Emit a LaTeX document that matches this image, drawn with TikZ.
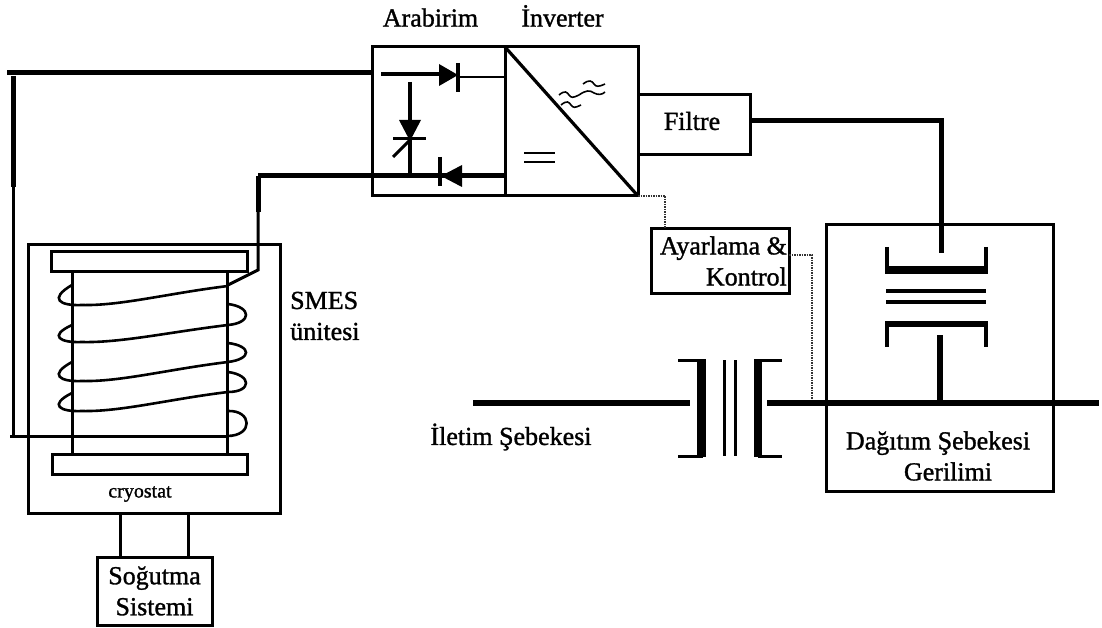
\documentclass[tikz,border=0pt]{standalone}
\usepackage{fontspec}
\setmainfont{Liberation Serif}[RawFeature={embolden=1.2}]
\usepackage{tikz}
\usetikzlibrary{positioning}

\begin{document}
\begin{tikzpicture}[
    x=1pt, y=-1pt,
    blockbox/.style={draw, line width=3pt, rectangle, inner sep=0pt, outer sep=0pt, align=center, font=\fontsize{26}{31}\selectfont},
    label/.style={inner sep=0pt, font=\fontsize{26}{31}\selectfont},
    wire/.style={line width=5pt},
    thin wire/.style={line width=3pt},
    bus/.style={line width=6.5pt},
    signal/.style={line width=1.5pt, densely dotted, black!80},
    turn/.style={line width=2.6pt}
]
    \useasboundingbox (0,0) rectangle (1102,628);

    \node[blockbox, minimum width=133pt, minimum height=149pt] (arabirim) at (438.5,121.5) {};
    \node[blockbox, minimum width=133pt, minimum height=149pt, right=0pt of arabirim] (inverter) {};
    \node[blockbox, minimum width=112pt, minimum height=60pt] (filtre) at (694,125) {};
    \node[label] (filtretext) at (692,121) {Filtre};
    \node[blockbox, minimum width=138pt, minimum height=64pt] (kontrol) at (720,261) {};
    \node[label, align=right, anchor=east] (kontroltext) at (787,261) {Ayarlama \&\\Kontrol};
    \node[blockbox, minimum width=227pt, minimum height=266pt] (dagitim) at (939.5,358) {};
    \node[blockbox, minimum width=252pt, minimum height=268pt] (cryostat) at (154,379) {};
    \node[blockbox, minimum width=196pt, minimum height=19pt] (ustplaka) at (149,261.5) {};
    \node[blockbox, minimum width=195pt, minimum height=20pt] (altplaka) at (149.5,464) {};
    \node[blockbox, minimum width=115pt, minimum height=68pt] (sogutma) at (154.5,591) {Soğutma\\Sistemi};

    \node[label, above=20pt of arabirim, xshift=-8pt] (arabirimtext) {Arabirim};
    \node[label, above=20pt of inverter, xshift=-9pt] (invertertext) {İnverter};
    \node[label, align=left, anchor=west] (smes) at (290,316) {SMES\\ünitesi};
    \node[label] (iletim) at (511,437) {İletim Şebekesi};
    \node[label, align=center] (dagitimtext) at (938,456) {Dağıtım Şebekesi\\\hspace*{20pt}Gerilimi};
    \node[inner sep=0pt, font=\fontsize{20}{24}\selectfont] (cryotext) at (140,494) {cryostat};

    % ana hatlar
    \coordinate (solust) at (7,73);
    \coordinate (solkose) at (13,76);
    \coordinate (solalt) at (10,436);
    \coordinate (bobinalt) at (227,436);
    \coordinate (dirsek) at (258,176);
    \coordinate (bobinust) at (228,285);
    \coordinate (filtrekose) at (941,121);
    \coordinate (trafoust) at (941,253);

    \draw[wire] (solust) -- (solust -| arabirim.west);
    \draw[wire] (solkose) -- (13,187);
    \draw[thin wire] (13,187) -- (13,436);
    \draw[thin wire] (solalt) -- (bobinalt);
    \draw[wire] (dirsek) -- (258,212);
    \draw[thin wire] (258,212) -- (258,270) -- (bobinust);
    \draw[wire] (dirsek) -- (dirsek -| arabirim.east);
    \draw[wire] (filtre.east |- filtrekose) -- (filtrekose) -- (trafoust);

    % bobin
    \draw[thin wire] (72,271) -- (72,454);
    \draw[thin wire] (227,271) -- (227,454);
    \foreach \ya/\yb/\yc in {286/305/285, 325/342/325, 362/381/362, 392/411/393} {
        \draw[turn] (228,\ya) .. controls (170,\ya+7) and (120,\yb+1) .. (82,\yb)
            .. controls (60,\yb+1) and (48,\yb-6) .. (72,\yc);
    }
    \foreach \ya/\yb/\yc in {304/316/325, 343/352/362, 372/385/392} {
        \draw[turn] (228,\ya) .. controls (252,\ya+3) and (252,\yb+7) .. (228,\yc);
    }
    \draw[turn] (228,411) .. controls (252,410) and (254,436) .. (227,436);

    % borular
    \draw[thin wire] (120,513) -- (120,557);
    \draw[thin wire] (188,513) -- (188,557);

    % arabirim
    \draw[line width=3.4pt] (381,74) -- (442,74);
    \fill (439,64) -- (458,75) -- (439,86) -- cycle;
    \draw[line width=3.6pt] (458,63) -- (458,92);
    \draw[line width=1.8pt] (458,77) -- (inverter.west |- 0,77);
    \draw[line width=3.8pt] (410,82) -- (410,175);
    \fill (399,120) -- (421,120) -- (410,141) -- cycle;
    \draw[thin wire] (393,139) -- (426,139);
    \draw[thin wire] (393,157) -- (410,140);
    \draw[line width=3.2pt] (440,157) -- (440,186);
    \fill (441,176) -- (462,165) -- (462,187) -- cycle;

    % inverter
    \draw[line width=3.2pt] (inverter.north west) -- (inverter.south east);
    \draw[line width=2.8pt] (524,153) -- (555,153);
    \draw[line width=2.8pt] (524,162) -- (555,162);
    \foreach \x/\y/\w in {583/84/22, 559/95/20, 561/105/20} {
        \draw[line width=1.6pt] (\x,\y) .. controls (\x+.3*\w,\y-5) and (\x+.4*\w,\y-3) .. (\x+.5*\w,\y)
            .. controls (\x+.6*\w,\y+3) and (\x+.7*\w,\y+3) .. (\x+\w,\y);
    }
    \draw[line width=1.6pt] (579,95) .. controls (586,90) and (590,90) .. (594,93) .. controls (598,95) and (602,95) .. (605,92);

    % kontrol hatlari
    \coordinate (invalt) at (665,196);
    \coordinate (kontrolsag) at (812,255);
    \coordinate (baraust) at (812,400);
    \draw[signal] (inverter.south east) -- (invalt) -- (invalt |- kontrol.north);
    \draw[signal] (kontrol.east |- kontrolsag) -- (kontrolsag) -- (baraust);

    % trafolar
    \draw[bus] (473,403) -- (690,403);
    \draw[bus] (767,403) -- (1099,403);
    \draw[thin wire] (678,360) -- (703,360);
    \draw[thin wire] (678,456) -- (703,456);
    \draw[line width=8.5pt] (701.5,359) -- (701.5,457);
    \draw[line width=3pt] (724,360) -- (724,456);
    \draw[line width=3pt] (735,360) -- (735,456);
    \draw[line width=8pt] (757.5,359) -- (757.5,457);
    \draw[thin wire] (758,360) -- (782,360);
    \draw[thin wire] (758,456) -- (782,456);

    \draw[line width=3.4pt] (887,247) -- (887,270);
    \draw[line width=3.4pt] (986,247) -- (986,270);
    \draw[line width=8pt] (885,270) -- (988,270);
    \draw[line width=3.2pt] (886,291) -- (986,291);
    \draw[line width=3.2pt] (886,302) -- (986,302);
    \draw[line width=6.5pt] (885,324) -- (988,324);
    \draw[line width=3.4pt] (887,324) -- (887,347);
    \draw[line width=3.4pt] (986,324) -- (986,347);
    \draw[bus] (940,335) -- (940,403);
\end{tikzpicture}
\end{document}
